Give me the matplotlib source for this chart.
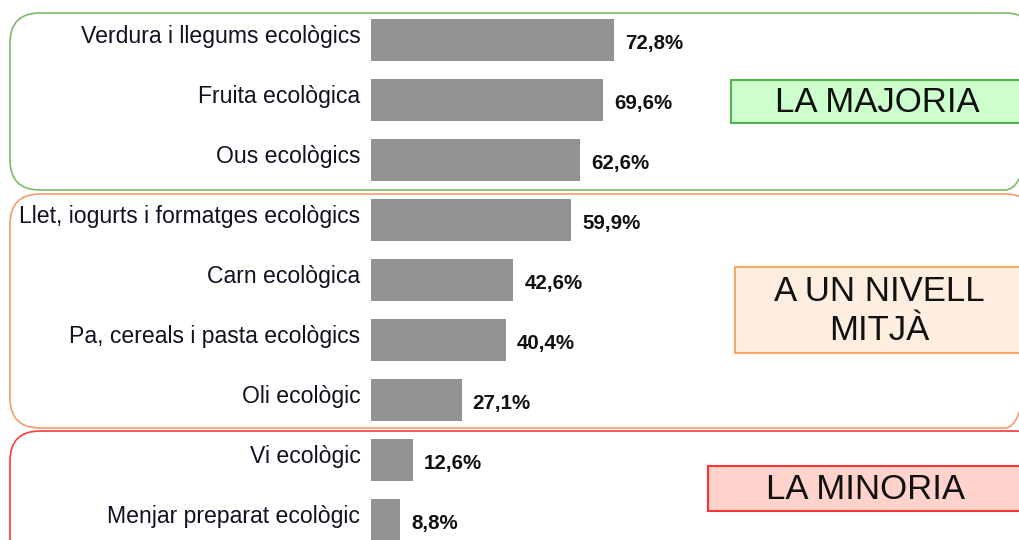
import matplotlib
matplotlib.use("Agg")
import matplotlib.pyplot as plt
from matplotlib.patches import FancyBboxPatch, Rectangle

categories = ["Verdura i llegums ecològics", "Fruita ecològica", "Ous ecològics",
              "Llet, iogurts i formatges ecològics", "Carn ecològica",
              "Pa, cereals i pasta ecològics", "Oli ecològic", "Vi ecològic",
              "Menjar preparat ecològic"]
values = [72.8, 69.6, 62.6, 59.9, 42.6, 40.4, 27.1, 12.6, 8.8]
value_labels = ["72,8%", "69,6%", "62,6%", "59,9%", "42,6%", "40,4%", "27,1%", "12,6%", "8,8%"]
group_names = ["LA MAJORIA", "A UN NIVELL\nMITJÀ", "LA MINORIA"]

plt.rcParams['font.family'] = ['Liberation Sans', 'DejaVu Sans']

W, H = 1019, 540
fig = plt.figure(figsize=(W / 100, H / 100), dpi=100)

# overlay axes in pixel coordinates for decorations
deco = fig.add_axes([0, 0, 1, 1])
deco.set_xlim(0, W)
deco.set_ylim(H, 0)
deco.axis('off')

def rbox(x0, y0, x1, y1, ec, lw=1.2):
    p = FancyBboxPatch((x0, y0), x1 - x0, y1 - y0,
                       boxstyle="round,pad=0,rounding_size=30",
                       fc='none', ec=ec, lw=lw, mutation_aspect=1)
    deco.add_patch(p)

rbox(10, 13, 1035, 190, '#7cba6a')
rbox(10, 194, 1035, 428, '#f79a72')
rbox(10, 431, 1045, 580, '#ff3b3b')

def lbox(x0, y0, x1, y1, fc, ec, text, cx):
    deco.add_patch(Rectangle((x0, y0), x1 - x0, y1 - y0, fc=fc, ec=ec, lw=1.5))
    deco.text(cx, (y0 + y1) / 2 + 1, text, ha='center', va='center',
              fontsize=25, linespacing=1.25, color='#111111')

lbox(731, 80, 1025, 123, '#ccffcc', '#55b050', group_names[0], 877)
lbox(735, 267, 1025, 353, '#fdeee0', '#f8a868', group_names[1], 879)
lbox(708, 466, 1025, 511, '#ffd3cb', '#ff3535', group_names[2], 866)

# bar axes
ax = fig.add_axes([0, 0, 1, 1])
ax.patch.set_alpha(0)
px_per_unit = 3.34
x0_px = 371
ax.set_xlim(-x0_px / px_per_unit, (W - x0_px) / px_per_unit)
ax.set_ylim((H - 40) / 60, -40 / 60)
ax.axis('off')

ypos = list(range(len(categories)))
ax.barh(ypos, values, height=0.7, color='#939393')
for y, v, lab, cat in zip(ypos, values, value_labels, categories):
    ax.text(v + 3.3, y + 0.05, lab, ha='left', va='center', fontsize=14.8,
            fontweight='bold', color='#111111')
    ax.text(-3.2, y - 0.05, cat, ha='right', va='center', fontsize=16.6,
            color='#111122')

fig.savefig("out.png", dpi=100)
